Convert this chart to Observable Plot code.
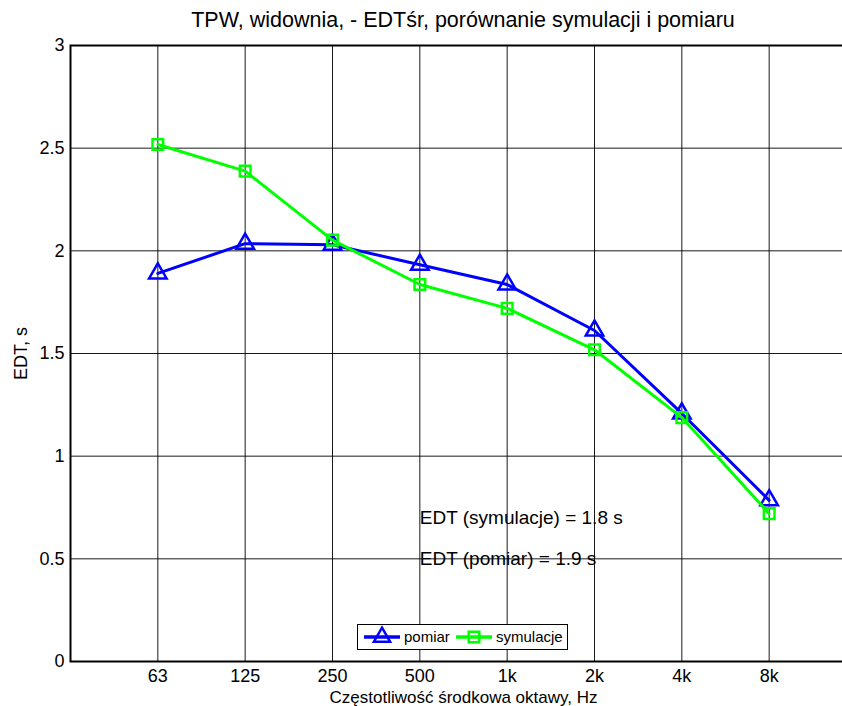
<!DOCTYPE html>
<html>
<head>
<meta charset="utf-8">
<script src="https://cdn.jsdelivr.net/npm/d3@7"></script>
<script src="https://cdn.jsdelivr.net/npm/@observablehq/plot@0.6"></script>
<style>
  html, body { margin: 0; padding: 0; background: #fff; overflow: hidden; }
  #wrap { position: relative; width: 842px; height: 706px; overflow: hidden; font-family: "Liberation Sans", Arial, sans-serif; }
  #chart svg { max-width: none !important; }
  #title { position: absolute; left: 70px; width: 786px; top: 8px; text-align: center; font-size: 21.5px; color: #000; white-space: nowrap; }
  #legend { position: absolute; left: 357px; top: 624px; width: 209px; height: 24px; border: 1.5px solid #000; background: #fff; }
</style>
</head>
<body>
<div id="wrap">
  <div id="chart"></div>
  <div id="title"></div>
  <div id="legend"></div>
</div>
<script>
const bands = ["63", "125", "250", "500", "1k", "2k", "4k", "8k"];
const pomiar = [1.89, 2.035, 2.03, 1.932, 1.836, 1.612, 1.208, 0.785];
const symulacje = [2.518, 2.388, 2.052, 1.836, 1.72, 1.518, 1.188, 0.72];
const seriesNames = ["pomiar", "symulacje"];
const seriesColors = ["#0000ff", "#00ff00"];
const yTicks = [0, 0.5, 1, 1.5, 2, 2.5, 3];
const titleText = "TPW, widownia, - EDTśr, porównanie symulacji i pomiaru";
const xLabel = "Częstotliwość środkowa oktawy, Hz";
const yLabel = "EDT, s";
const notes = [
  {band: 4, value: 0.70, text: "EDT (symulacje) = 1.8 s"},
  {band: 4, value: 0.50, text: "EDT (pomiar) = 1.9 s"}
];

const idx = bands.map((_, i) => i + 1);
const pData = bands.map((b, i) => ({x: i + 1, y: pomiar[i]}));
const sData = bands.map((b, i) => ({x: i + 1, y: symulacje[i]}));

const chart = Plot.plot({
  width: 860,
  height: 706,
  marginLeft: 70,
  marginRight: 4,
  marginTop: 45,
  marginBottom: 45,
  style: {fontFamily: "'Liberation Sans', Arial, sans-serif", fontSize: "18px", color: "#000", background: "#fff"},
  x: {domain: [0, 9]},
  y: {domain: [0, 3]},
  marks: [
    Plot.gridX(idx, {stroke: "#000", strokeOpacity: 0.9, strokeWidth: 1}),
    Plot.gridY(yTicks.slice(1, -1), {stroke: "#000", strokeOpacity: 0.9, strokeWidth: 1}),
    Plot.text(notes, {x: "band", y: "value", text: "text", textAnchor: "start", fontSize: 19, fill: "#000"}),
    Plot.line(pData, {x: "x", y: "y", stroke: seriesColors[0], strokeWidth: 3}),
    Plot.dot(pData, {x: "x", y: "y", symbol: "triangle", r: 6.5, stroke: seriesColors[0], strokeWidth: 2.5, fill: "none"}),
    Plot.line(sData, {x: "x", y: "y", stroke: seriesColors[1], strokeWidth: 3}),
    Plot.dot(sData, {x: "x", y: "y", symbol: "square", r: 6, stroke: seriesColors[1], strokeWidth: 2.5, fill: "none"}),
    Plot.frame({stroke: "#000", strokeWidth: 2}),
    Plot.axisX({ticks: idx, tickFormat: d => bands[d - 1], tickSize: 0, tickPadding: 8, label: null, fontSize: 18}),
    Plot.axisX({ticks: [], label: xLabel, labelAnchor: "center", labelArrow: "none", labelOffset: 41, fontSize: 17}),
    Plot.axisY({ticks: yTicks, tickFormat: d => String(d), tickSize: 0, tickPadding: 6, label: yLabel, labelAnchor: "center", labelOffset: 56, labelArrow: "none", fontSize: 18})
  ]
});
document.getElementById("chart").appendChild(chart);
document.getElementById("title").textContent = titleText;

// legend
const ns = "http://www.w3.org/2000/svg";
const lg = document.getElementById("legend");
const svg = document.createElementNS(ns, "svg");
svg.setAttribute("width", 209); svg.setAttribute("height", 24);
svg.style.fontFamily = "'Liberation Sans', Arial, sans-serif";
const entries = [
  {name: seriesNames[0], color: seriesColors[0], sym: d3.symbolTriangle, x0: 6},
  {name: seriesNames[1], color: seriesColors[1], sym: d3.symbolSquare, x0: 98}
];
entries.forEach(e => {
  const l = document.createElementNS(ns, "line");
  l.setAttribute("x1", e.x0); l.setAttribute("x2", e.x0 + 36);
  l.setAttribute("y1", 12); l.setAttribute("y2", 12);
  l.setAttribute("stroke", e.color); l.setAttribute("stroke-width", 3.5);
  svg.appendChild(l);
  const p = document.createElementNS(ns, "path");
  p.setAttribute("d", d3.symbol(e.sym, Math.PI * 36)());
  p.setAttribute("transform", `translate(${e.x0 + 18},12)`);
  p.setAttribute("fill", "none"); p.setAttribute("stroke", e.color); p.setAttribute("stroke-width", 2.5);
  svg.appendChild(p);
  const t = document.createElementNS(ns, "text");
  t.setAttribute("x", e.x0 + 40); t.setAttribute("y", 17);
  t.setAttribute("font-size", 15);
  t.textContent = e.name;
  svg.appendChild(t);
});
lg.appendChild(svg);
</script>
</body>
</html>
